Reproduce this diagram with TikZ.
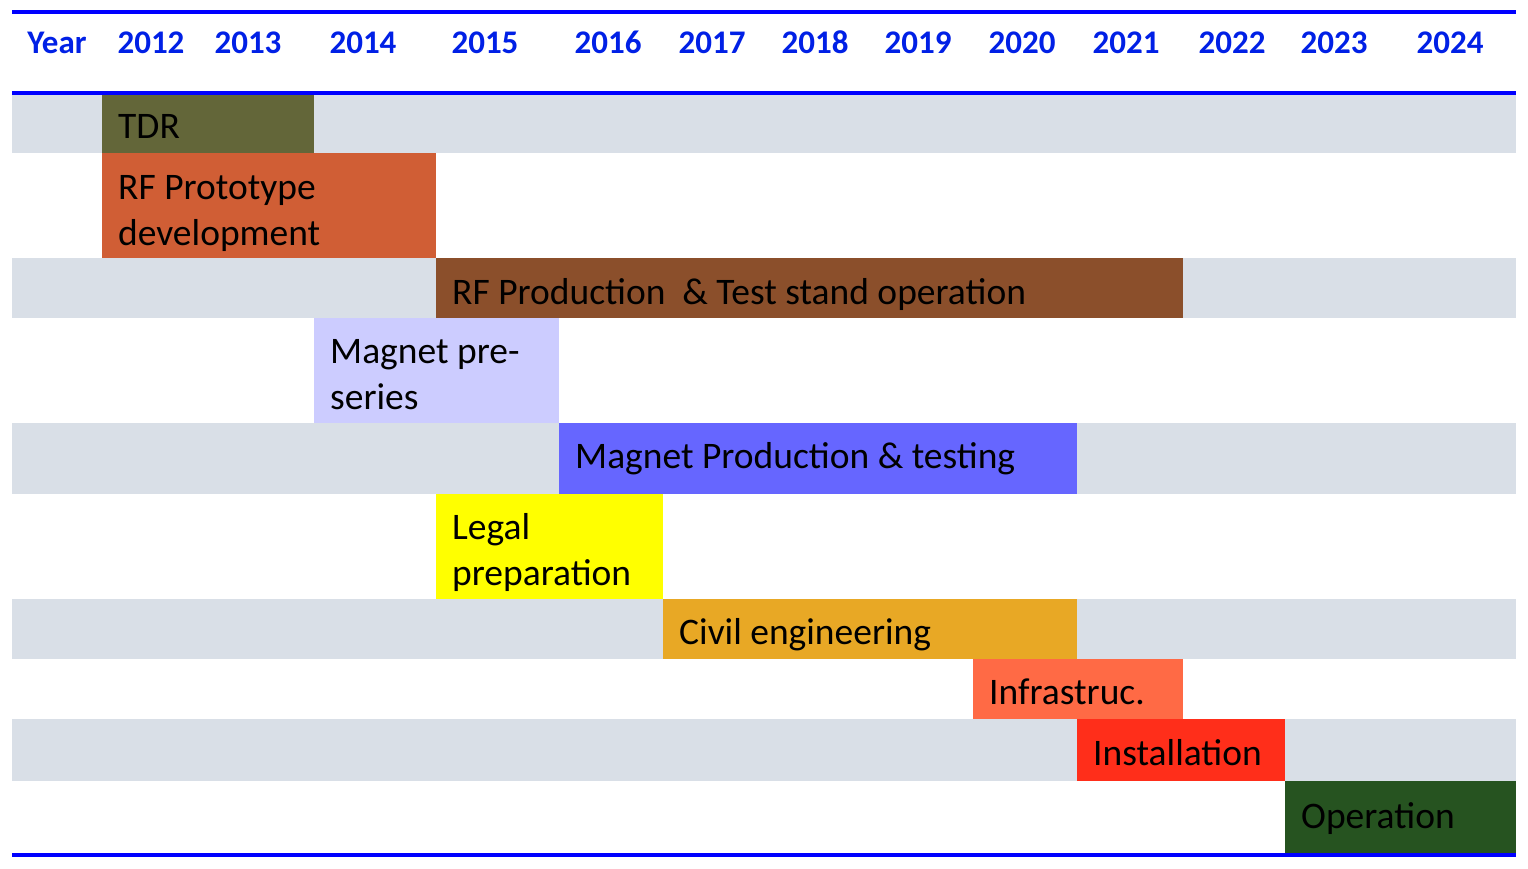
\documentclass[tikz,border=0pt]{standalone}
\usepackage{fontspec}
\setmainfont{Carlito}
\definecolor{rowgray}{RGB}{217,223,231}
\definecolor{lineblue}{RGB}{0,0,255}
\definecolor{headblue}{RGB}{0,32,230}
\definecolor{cTDR}{RGB}{99,102,57}
\definecolor{cRFproto}{RGB}{208,94,53}
\definecolor{cRFprod}{RGB}{139,79,43}
\definecolor{cMagPre}{RGB}{204,204,255}
\definecolor{cMagProd}{RGB}{102,102,255}
\definecolor{cLegal}{RGB}{255,255,0}
\definecolor{cCivil}{RGB}{232,168,37}
\definecolor{cInfra}{RGB}{255,106,69}
\definecolor{cInst}{RGB}{255,46,26}
\definecolor{cOper}{RGB}{38,83,32}
\tikzset{
  yearlbl/.style={anchor=base, inner sep=0pt, text=headblue, font=\fontsize{33}{38}\selectfont\bfseries},
  barlbl/.style={anchor=base west, inner sep=0pt, align=left, text=black, font=\fontsize{37.5}{46}\selectfont},
  rowband/.style={fill=rowgray},
  rule/.style={fill=lineblue}
}
\begin{document}
\begin{tikzpicture}[x=1pt,y=-1pt]
\useasboundingbox[fill=white] (0,0) rectangle (1528,868);
% alternating row bands
\path[rowband] (12,95) rectangle (1516,153);
\path[rowband] (12,258) rectangle (1516,318);
\path[rowband] (12,423) rectangle (1516,494);
\path[rowband] (12,599) rectangle (1516,659);
\path[rowband] (12,719) rectangle (1516,781);
% bars
\fill[cTDR] (102,95) rectangle (314,153);
\fill[cRFproto] (102,153) rectangle (436,258);
\fill[cRFprod] (436,258) rectangle (1183,318);
\fill[cMagPre] (314,318) rectangle (559,423);
\fill[cMagProd] (559,423) rectangle (1077,494);
\fill[cLegal] (436,494) rectangle (663,599);
\fill[cCivil] (663,599) rectangle (1077,659);
\fill[cInfra] (973,659) rectangle (1183,719);
\fill[cInst] (1077,719) rectangle (1285,781);
\fill[cOper] (1285,781) rectangle (1516,855);
% rules
\path[rule] (12,10) rectangle (1516,14);
\path[rule] (12,91) rectangle (1516,95);
\path[rule] (12,853) rectangle (1516,857);
% header
\node[yearlbl] (hyear) at (57,53) {Year};
\node[yearlbl] (h2012) at (151,53) {2012};
\node[yearlbl] (h2013) at (248,53) {2013};
\node[yearlbl] (h2014) at (363,53) {2014};
\node[yearlbl] (h2015) at (485,53) {2015};
\node[yearlbl] (h2016) at (608,53) {2016};
\node[yearlbl] (h2017) at (712,53) {2017};
\node[yearlbl] (h2018) at (815,53) {2018};
\node[yearlbl] (h2019) at (918,53) {2019};
\node[yearlbl] (h2020) at (1022,53) {2020};
\node[yearlbl] (h2021) at (1126,53) {2021};
\node[yearlbl] (h2022) at (1232,53) {2022};
\node[yearlbl] (h2023) at (1334,53) {2023};
\node[yearlbl] (h2024) at (1450,53) {2024};
% bar labels (base anchor of a two-line label = baseline of its last line)
\node[barlbl] (tdr) at (118,138) {TDR};
\node[barlbl] (rfproto) at (118,245) {RF Prototype\\development};
\node[barlbl] (rfprod) at (452,304) {RF Production\ \ \& Test stand operation};
\node[barlbl] (magpre) at (330,409) {Magnet pre-\\series};
\node[barlbl] (magprod) at (575,468) {Magnet Production \& testing};
\node[barlbl] (legal) at (452,585) {Legal\\preparation};
\node[barlbl] (civil) at (679,644) {Civil engineering};
\node[barlbl] (infra) at (989,704) {Infrastruc.};
\node[barlbl] (inst) at (1093,765) {Installation};
\node[barlbl] (oper) at (1301,828) {Operation};
\end{tikzpicture}
\end{document}
